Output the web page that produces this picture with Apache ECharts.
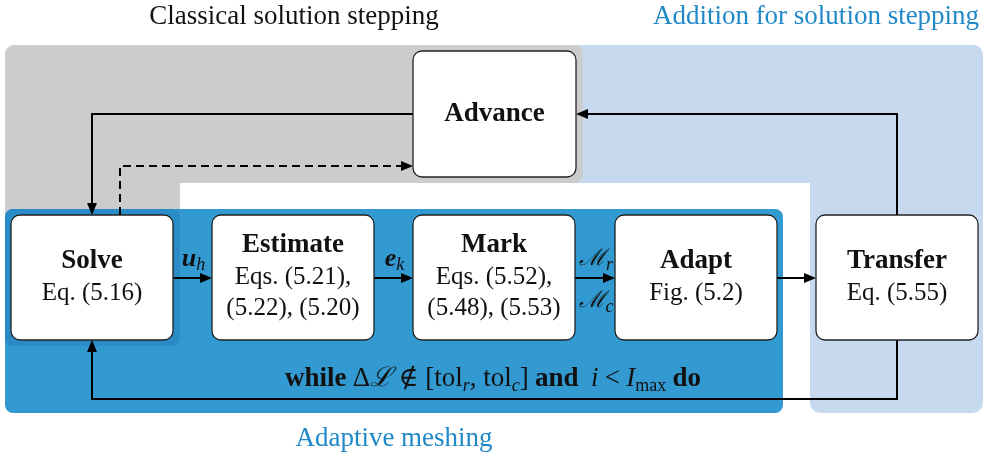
<!DOCTYPE html>
<html><head><meta charset="utf-8">
<script src="https://cdn.jsdelivr.net/npm/echarts@6/dist/echarts.min.js"></script>
<style>html,body{margin:0;padding:0;background:#fff}#c{width:985px;height:457px}</style>
</head><body><div id="c"></div>
<script>
// ---- content ----
const stageNames = ['Solve', 'Estimate', 'Mark', 'Adapt', 'Transfer'];
const stageRefs = [['Eq. (5.16)'], ['Eqs. (5.21),', '(5.22), (5.20)'], ['Eqs. (5.52),', '(5.48), (5.53)'], ['Fig. (5.2)'], ['Eq. (5.55)']];
const advanceName = 'Advance';
const edgeMain = ['u', 'e', 'ℳ', ''];
const edgeSubs = ['h', 'k', 'r', ''];
const edgeSubsBelow = ['', '', 'c', ''];
const regionTitles = ['Classical solution stepping', 'Addition for solution stepping', 'Adaptive meshing'];
const loopCondition = '{b|while} {n|Δ}{i|ℒ} {n|∉ [tol}{s|r}{n|, tol}{s|c}{n|]} {b|and}  {i|i} {n|<} {i|I}{s2|max} {b|do}';

// ---- layout (axis units) ----
const LAY = {
  colX: [11, 212, 413, 615, 816], boxW: 162, boxY: 215, boxH: 125,
  adv: {x: 413, y: 51, w: 163, h: 126},
  topLine: 114, dashLine: 166, dashX: 120, loopY: 399, arrowY: 278,
  titleY: [17, 17, 439], titleX: [294, 816, 394]
};
const SERIF = "'Liberation Serif','DejaVu Serif',serif";
const C = {gray: '#cccccc', light: '#c6d9ee', blue: '#3399d1', shadow: '#2b8bc6', title: '#1f88c8', ink: '#111'};

function renderItem(params, api) {
  const P = (x, y) => api.coord([x, y]);
  const ch = [];
  const rect = (x, y, w, h, fill, r, stroke) => {
    const a = P(x, y), b = P(x + w, y + h);
    ch.push({type: 'rect', shape: {x: a[0], y: a[1], width: b[0] - a[0], height: b[1] - a[1], r: r},
      style: stroke ? {fill: fill, stroke: stroke, lineWidth: 1.3} : {fill: fill}});
  };
  const text = (s, x, y, opt) => {
    const p = P(x, y);
    ch.push({type: 'text', x: p[0], y: p[1], style: Object.assign({text: s, align: 'center', verticalAlign: 'middle',
      fontFamily: SERIF, fontSize: 25, fill: C.ink}, opt)});
  };
  const arrow = (pts, dashed) => {
    const px = pts.map(q => P(q[0], q[1]));
    const n = px.length, e = px[n - 1], s = px[n - 2];
    const dx = e[0] - s[0], dy = e[1] - s[1], L = Math.hypot(dx, dy), ux = dx / L, uy = dy / L;
    const hl = 12, hw = 5;
    const base = [e[0] - ux * hl, e[1] - uy * hl];
    const line = px.slice(0, n - 1).concat([[e[0] - ux * (hl - 2), e[1] - uy * (hl - 2)]]);
    ch.push({type: 'polyline', shape: {points: line}, style: {stroke: '#000', lineWidth: 2, fill: null, lineDash: dashed ? [8, 5] : null}});
    ch.push({type: 'polygon', shape: {points: [e, [base[0] - uy * hw, base[1] + ux * hw], [base[0] + uy * hw, base[1] - ux * hw]]}, style: {fill: '#000'}});
  };
  // regions
  rect(5, 45, 978, 138, C.light, 10);
  rect(810, 45, 173, 368, C.light, 10);
  rect(5, 45, 578, 138, C.gray, 9);
  rect(5, 150, 175, 65, C.gray, 0);
  rect(5, 209, 778, 204, C.blue, 8);
  rect(5, 209, 175, 137, C.shadow, 8);
  // titles
  text(regionTitles[0], LAY.titleX[0], LAY.titleY[0], {fontSize: 27, fill: '#111'});
  text(regionTitles[1], LAY.titleX[1], LAY.titleY[1], {fontSize: 27, fill: C.title});
  text(regionTitles[2], LAY.titleX[2], LAY.titleY[2], {fontSize: 27, fill: C.title});
  // arrows
  const cx = i => LAY.colX[i] + LAY.boxW / 2;
  const bot = LAY.boxY + LAY.boxH, A = LAY.adv;
  arrow([[A.x, LAY.topLine], [cx(0), LAY.topLine], [cx(0), LAY.boxY]]);
  arrow([[LAY.dashX, LAY.boxY], [LAY.dashX, LAY.dashLine], [A.x, LAY.dashLine]], true);
  arrow([[cx(4), LAY.boxY], [cx(4), LAY.topLine], [A.x + A.w, LAY.topLine]]);
  arrow([[cx(4), bot], [cx(4), LAY.loopY], [cx(0), LAY.loopY], [cx(0), bot]]);
  for (let i = 0; i < stageNames.length - 1; i++) {
    arrow([[LAY.colX[i] + LAY.boxW, LAY.arrowY], [LAY.colX[i + 1], LAY.arrowY]]);
  }
  // boxes
  stageNames.forEach((nm, i) => {
    rect(LAY.colX[i], LAY.boxY, LAY.boxW, LAY.boxH, '#fff', 9, '#222');
    const refs = stageRefs[i];
    const top = refs.length === 1 ? 261 : 245;
    text(nm, cx(i), top, {fontWeight: 'bold', fontSize: 27});
    refs.forEach((r, k) => text(r, cx(i), top + 32 + k * 31, {fontSize: 25}));
  });
  rect(A.x, A.y, A.w, A.h, '#fff', 9, '#222');
  text(advanceName, A.x + A.w / 2, A.y + 63, {fontWeight: 'bold', fontSize: 27});
  // edge labels
  for (let i = 0; i < edgeMain.length; i++) {
    if (!edgeMain[i]) continue;
    const gx = (LAY.colX[i] + LAY.boxW + LAY.colX[i + 1]) / 2 + 1;
    const bold = i < 2;
    const rich = {
      m: {fontFamily: SERIF, fontSize: bold ? 26 : 23, fontStyle: 'italic', fontWeight: bold ? 'bold' : 'normal', fill: C.ink, lineHeight: 30, verticalAlign: 'middle'},
      s: {fontFamily: SERIF, fontSize: 18, fontStyle: 'italic', fill: C.ink, lineHeight: 16, verticalAlign: 'bottom'}
    };
    text('{m|' + edgeMain[i] + '}{s|' + edgeSubs[i] + '}', gx, 259, {rich: rich});
    if (edgeSubsBelow[i]) text('{m|' + edgeMain[i] + '}{s|' + edgeSubsBelow[i] + '}', gx, 301, {rich: rich});
  }
  // loop condition
  text(loopCondition, 493, 379, {rich: {
    b: {fontFamily: SERIF, fontSize: 27, fontWeight: 'bold', fill: C.ink, lineHeight: 32, verticalAlign: 'middle'},
    n: {fontFamily: SERIF, fontSize: 27, fill: C.ink, lineHeight: 32, verticalAlign: 'middle'},
    i: {fontFamily: SERIF, fontSize: 27, fontStyle: 'italic', fill: C.ink, lineHeight: 32, verticalAlign: 'middle'},
    s: {fontFamily: SERIF, fontSize: 18, fontStyle: 'italic', fill: C.ink, lineHeight: 14, verticalAlign: 'bottom'},
    s2: {fontFamily: SERIF, fontSize: 18, fill: C.ink, lineHeight: 14, verticalAlign: 'bottom'}
  }});
  return {type: 'group', children: ch};
}

const chart = echarts.init(document.getElementById('c'));
chart.setOption({
  animation: false,
  grid: {left: 0, right: 0, top: 0, bottom: 0},
  xAxis: {type: 'value', min: 0, max: 985, show: false},
  yAxis: {type: 'value', min: 0, max: 457, inverse: true, show: false},
  series: [{type: 'custom', coordinateSystem: 'cartesian2d', clip: false, data: [[0, 0]], renderItem: renderItem}]
});
</script></body></html>
